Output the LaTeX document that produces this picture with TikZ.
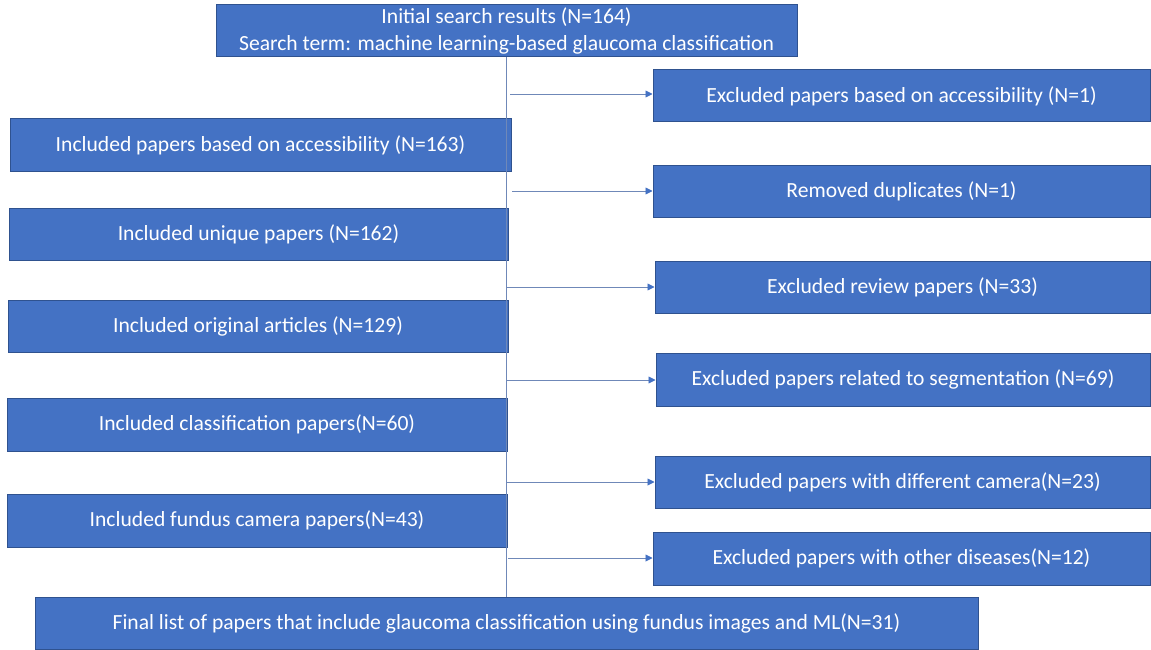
\documentclass[tikz,border=0pt]{standalone}
\usepackage{fontspec}
\setmainfont{Carlito}
\usetikzlibrary{arrows.meta}
\definecolor{boxfill}{HTML}{4472C4}
\definecolor{boxedge}{HTML}{2F528F}
\definecolor{linkcol}{HTML}{6F88B8}
\tikzset{
  flowbox/.style={rectangle, fill=boxfill, draw=boxedge, line width=1pt,
    inner sep=0pt, text=white, align=center,
    font=\fontsize{21.6}{27}\selectfont},
  link/.style={draw=linkcol, line width=0.9pt},
  linkarrow/.style={link, -{Triangle[length=7pt,width=7pt,fill=boxfill,color=boxfill]}},
}
\begin{document}
\begin{tikzpicture}[x=1pt,y=-1pt]
\useasboundingbox (0,0) rectangle (1151,650);

% start of the search
\node[flowbox, minimum width=581pt, minimum height=52pt] (start) at (506.5,31)
  {Initial search results (N=164)\\Search term: machine learning-based glaucoma classification};

% papers kept at each step (left column)
\node[flowbox, minimum width=501pt, minimum height=52pt] (inc1) at (260.5,145) {Included papers based on accessibility (N=163)};
\node[flowbox, minimum width=499pt, minimum height=52pt] (inc2) at (258.5,234) {Included unique papers (N=162)};
\node[flowbox, minimum width=500pt, minimum height=52pt] (inc3) at (258,326) {Included original articles (N=129)};
\node[flowbox, minimum width=500pt, minimum height=53pt] (inc4) at (257,424.5) {Included classification papers(N=60)};
\node[flowbox, minimum width=500pt, minimum height=53pt] (inc5) at (257,520.5) {Included fundus camera papers(N=43)};

% papers removed at each step (right column)
\node[flowbox, minimum width=497pt, minimum height=52pt] (exc1) at (901.5,96) {Excluded papers based on accessibility (N=1)};
\node[flowbox, minimum width=497pt, minimum height=52pt] (exc2) at (901.5,191) {Removed duplicates (N=1)};
\node[flowbox, minimum width=495pt, minimum height=52pt] (exc3) at (902.5,287) {Excluded review papers (N=33)};
\node[flowbox, minimum width=494pt, minimum height=53pt] (exc4) at (903,379.5) {Excluded papers related to segmentation (N=69)};
\node[flowbox, minimum width=495pt, minimum height=52pt] (exc5) at (902.5,482) {Excluded papers with different camera(N=23)};
\node[flowbox, minimum width=497pt, minimum height=53pt] (exc6) at (901.5,558.5) {Excluded papers with other diseases(N=12)};

% final selection
\node[flowbox, minimum width=943pt, minimum height=52pt] (final) at (506.5,623)
  {Final list of papers that include glaucoma classification using fundus images and ML(N=31)};

% main vertical flow line
\path[link] (start.south) -- (final.north);

% branch points on the flow line
\coordinate (b1) at (510,94);
\coordinate (b2) at (512,191);
\coordinate (b3) at (507,287);
\coordinate (b4) at (507,380);
\coordinate (b5) at (507,482);
\coordinate (b6) at (508,558);

\draw[linkarrow] (b1) -- (exc1.west |- b1);
\draw[linkarrow] (b2) -- (exc2.west |- b2);
\draw[linkarrow] (b3) -- (exc3.west |- b3);
\draw[linkarrow] (b4) -- (exc4.west |- b4);
\draw[linkarrow] (b5) -- (exc5.west |- b5);
\draw[linkarrow] (b6) -- (exc6.west |- b6);
\end{tikzpicture}
\end{document}
